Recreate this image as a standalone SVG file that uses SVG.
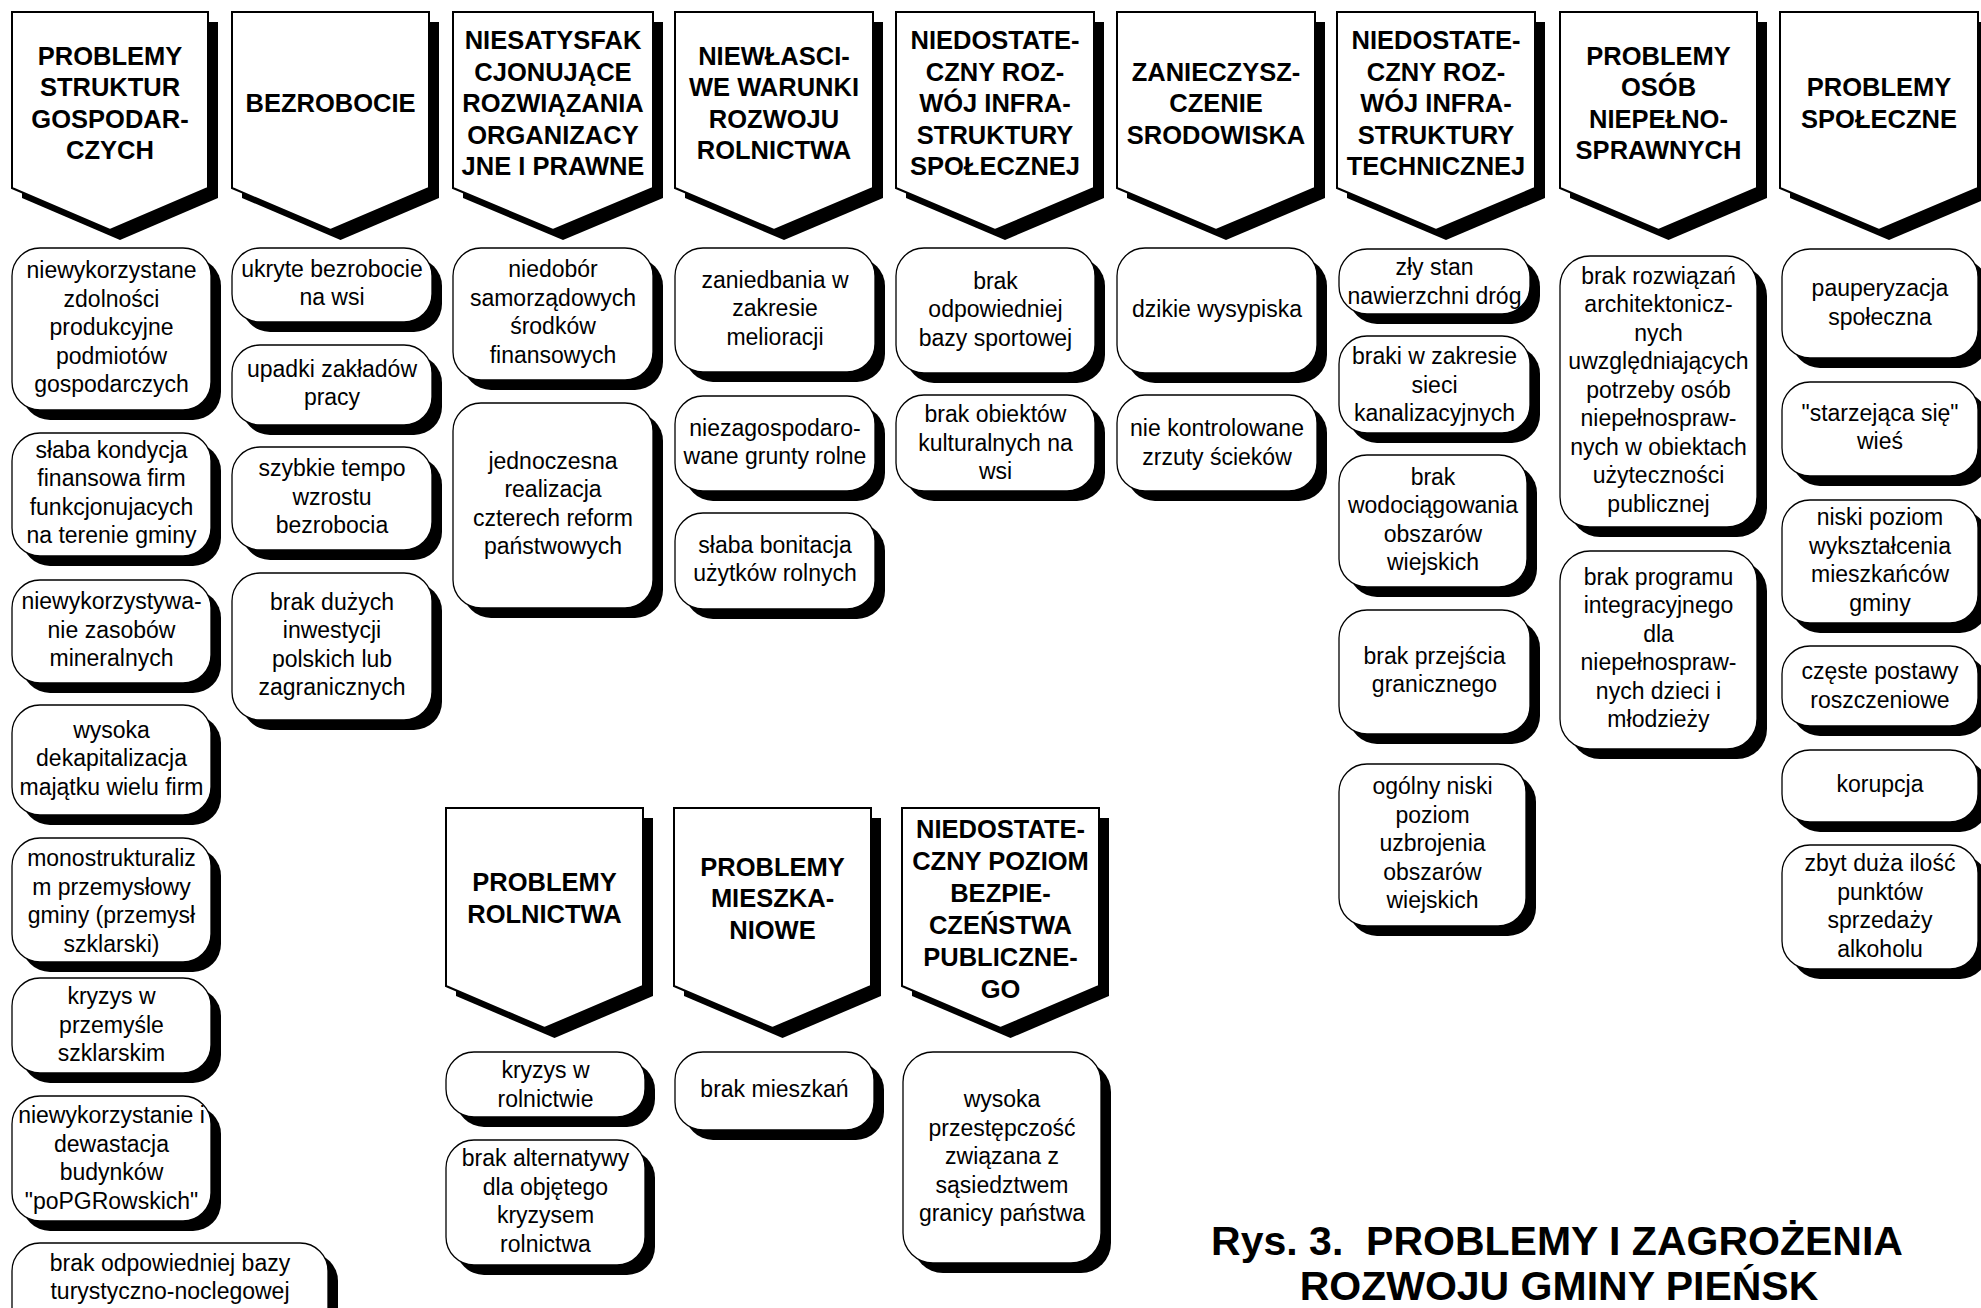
<svg xmlns="http://www.w3.org/2000/svg" width="1981" height="1308" viewBox="0 0 1981 1308">
<style>
.sh{fill:#000}
.hd{fill:#fff;stroke:#000;stroke-width:2;stroke-linejoin:miter}
.bx{fill:#fff;stroke:#000;stroke-width:1.3}
.ht{font-family:"Liberation Sans",Arial,sans-serif;font-weight:bold;font-size:25.5px;text-anchor:middle;fill:#000}
.bt{font-family:"Liberation Sans",Arial,sans-serif;font-size:23px;text-anchor:middle;fill:#000}
.tt{font-family:"Liberation Sans",Arial,sans-serif;font-weight:bold;font-size:41px;text-anchor:middle;fill:#000;white-space:pre}
</style>
<rect width="1981" height="1308" fill="#fff"/>
<g id="connectors"/>

<!-- Top headers -->
<g id="h1"><polygon class="sh" transform="translate(10,10)" points="12,12 208,12 208,188 110,230 12,188"/><polygon class="hd" points="12,12 208,12 208,188 110,230 12,188"/>
<text class="ht" y="64.75"><tspan x="110">PROBLEMY</tspan><tspan x="110" dy="31.5">STRUKTUR</tspan><tspan x="110" dy="31.5">GOSPODAR-</tspan><tspan x="110" dy="31.5">CZYCH</tspan></text></g>
<g id="h2"><polygon class="sh" transform="translate(10,10)" points="232,12 429,12 429,188 330.5,230 232,188"/><polygon class="hd" points="232,12 429,12 429,188 330.5,230 232,188"/>
<text class="ht" y="112"><tspan x="330.5">BEZROBOCIE</tspan></text></g>
<g id="h3"><polygon class="sh" transform="translate(10,10)" points="453,12 653,12 653,188 553,230 453,188"/><polygon class="hd" points="453,12 653,12 653,188 553,230 453,188"/>
<text class="ht" y="49"><tspan x="553">NIESATYSFAK</tspan><tspan x="553" dy="31.5">CJONUJĄCE</tspan><tspan x="553" dy="31.5">ROZWIĄZANIA</tspan><tspan x="553" dy="31.5">ORGANIZACY</tspan><tspan x="553" dy="31.5">JNE I PRAWNE</tspan></text></g>
<g id="h4"><polygon class="sh" transform="translate(10,10)" points="675,12 873,12 873,188 774,230 675,188"/><polygon class="hd" points="675,12 873,12 873,188 774,230 675,188"/>
<text class="ht" y="64.75"><tspan x="774">NIEWŁASCI-</tspan><tspan x="774" dy="31.5">WE WARUNKI</tspan><tspan x="774" dy="31.5">ROZWOJU</tspan><tspan x="774" dy="31.5">ROLNICTWA</tspan></text></g>
<g id="h5"><polygon class="sh" transform="translate(10,10)" points="896,12 1094,12 1094,188 995,230 896,188"/><polygon class="hd" points="896,12 1094,12 1094,188 995,230 896,188"/>
<text class="ht" y="49"><tspan x="995">NIEDOSTATE-</tspan><tspan x="995" dy="31.5">CZNY ROZ-</tspan><tspan x="995" dy="31.5">WÓJ INFRA-</tspan><tspan x="995" dy="31.5">STRUKTURY</tspan><tspan x="995" dy="31.5">SPOŁECZNEJ</tspan></text></g>
<g id="h6"><polygon class="sh" transform="translate(10,10)" points="1117,12 1315,12 1315,188 1216,230 1117,188"/><polygon class="hd" points="1117,12 1315,12 1315,188 1216,230 1117,188"/>
<text class="ht" y="80.5"><tspan x="1216">ZANIECZYSZ-</tspan><tspan x="1216" dy="31.5">CZENIE</tspan><tspan x="1216" dy="31.5">SRODOWISKA</tspan></text></g>
<g id="h7"><polygon class="sh" transform="translate(10,10)" points="1337,12 1535,12 1535,188 1436,230 1337,188"/><polygon class="hd" points="1337,12 1535,12 1535,188 1436,230 1337,188"/>
<text class="ht" y="49"><tspan x="1436">NIEDOSTATE-</tspan><tspan x="1436" dy="31.5">CZNY ROZ-</tspan><tspan x="1436" dy="31.5">WÓJ INFRA-</tspan><tspan x="1436" dy="31.5">STRUKTURY</tspan><tspan x="1436" dy="31.5">TECHNICZNEJ</tspan></text></g>
<g id="h8"><polygon class="sh" transform="translate(10,10)" points="1560,12 1757,12 1757,188 1658.5,230 1560,188"/><polygon class="hd" points="1560,12 1757,12 1757,188 1658.5,230 1560,188"/>
<text class="ht" y="64.75"><tspan x="1658.5">PROBLEMY</tspan><tspan x="1658.5" dy="31.5">OSÓB</tspan><tspan x="1658.5" dy="31.5">NIEPEŁNO-</tspan><tspan x="1658.5" dy="31.5">SPRAWNYCH</tspan></text></g>
<g id="h9"><polygon class="sh" transform="translate(10,10)" points="1780,12 1978,12 1978,188 1879,230 1780,188"/><polygon class="hd" points="1780,12 1978,12 1978,188 1879,230 1780,188"/>
<text class="ht" y="96.25"><tspan x="1879">PROBLEMY</tspan><tspan x="1879" dy="31.5">SPOŁECZNE</tspan></text></g>

<!-- Column 1 -->
<g id="c1b1"><rect class="sh" x="22" y="258" width="199" height="162" rx="28"/><rect class="bx" x="12" y="248" width="199" height="162" rx="28"/>
<text class="bt" y="278"><tspan x="111.5">niewykorzystane</tspan><tspan x="111.5" dy="28.5">zdolności</tspan><tspan x="111.5" dy="28.5">produkcyjne</tspan><tspan x="111.5" dy="28.5">podmiotów</tspan><tspan x="111.5" dy="28.5">gospodarczych</tspan></text></g>
<g id="c1b2"><rect class="sh" x="22" y="443" width="199" height="123" rx="28"/><rect class="bx" x="12" y="433" width="199" height="123" rx="28"/>
<text class="bt" y="457.75"><tspan x="111.5">słaba kondycja</tspan><tspan x="111.5" dy="28.5">finansowa firm</tspan><tspan x="111.5" dy="28.5">funkcjonujacych</tspan><tspan x="111.5" dy="28.5">na terenie gminy</tspan></text></g>
<g id="c1b3"><rect class="sh" x="22" y="590" width="199" height="103" rx="28"/><rect class="bx" x="12" y="580" width="199" height="103" rx="28"/>
<text class="bt" y="609"><tspan x="111.5">niewykorzystywa-</tspan><tspan x="111.5" dy="28.5">nie zasobów</tspan><tspan x="111.5" dy="28.5">mineralnych</tspan></text></g>
<g id="c1b4"><rect class="sh" x="22" y="715" width="199" height="110" rx="28"/><rect class="bx" x="12" y="705" width="199" height="110" rx="28"/>
<text class="bt" y="737.5"><tspan x="111.5">wysoka</tspan><tspan x="111.5" dy="28.5">dekapitalizacja</tspan><tspan x="111.5" dy="28.5">majątku wielu firm</tspan></text></g>
<g id="c1b5"><rect class="sh" x="22" y="848" width="199" height="124" rx="28"/><rect class="bx" x="12" y="838" width="199" height="124" rx="28"/>
<text class="bt" y="866"><tspan x="111.5">monostrukturaliz</tspan><tspan x="111.5" dy="28.5">m przemysłowy</tspan><tspan x="111.5" dy="28.5">gminy (przemysł</tspan><tspan x="111.5" dy="28.5">szklarski)</tspan></text></g>
<g id="c1b6"><rect class="sh" x="22" y="988" width="199" height="95" rx="28"/><rect class="bx" x="12" y="978" width="199" height="95" rx="28"/>
<text class="bt" y="1004"><tspan x="111.5">kryzys w</tspan><tspan x="111.5" dy="28.5">przemyśle</tspan><tspan x="111.5" dy="28.5">szklarskim</tspan></text></g>
<g id="c1b7"><rect class="sh" x="22" y="1106" width="199" height="125" rx="28"/><rect class="bx" x="12" y="1096" width="199" height="125" rx="28"/>
<text class="bt" y="1123"><tspan x="111.5">niewykorzystanie i</tspan><tspan x="111.5" dy="28.5">dewastacja</tspan><tspan x="111.5" dy="28.5">budynków</tspan><tspan x="111.5" dy="28.5">"poPGRowskich"</tspan></text></g>
<g id="c1b8"><rect class="sh" x="22" y="1253" width="316" height="120" rx="28"/><rect class="bx" x="12" y="1243" width="316" height="120" rx="28"/>
<text class="bt" y="1271"><tspan x="170">brak odpowiedniej bazy</tspan><tspan x="170" dy="28">turystyczno-noclegowej</tspan></text></g>

<!-- Column 2 -->
<g id="c2b1"><rect class="sh" x="242" y="258" width="200" height="74" rx="28"/><rect class="bx" x="232" y="248" width="200" height="74" rx="28"/>
<text class="bt" y="276.75"><tspan x="332">ukryte bezrobocie</tspan><tspan x="332" dy="28.5">na wsi</tspan></text></g>
<g id="c2b2"><rect class="sh" x="242" y="355" width="200" height="80" rx="28"/><rect class="bx" x="232" y="345" width="200" height="80" rx="28"/>
<text class="bt" y="376.75"><tspan x="332">upadki zakładów</tspan><tspan x="332" dy="28.5">pracy</tspan></text></g>
<g id="c2b3"><rect class="sh" x="242" y="457" width="200" height="103" rx="28"/><rect class="bx" x="232" y="447" width="200" height="103" rx="28"/>
<text class="bt" y="476"><tspan x="332">szybkie tempo</tspan><tspan x="332" dy="28.5">wzrostu</tspan><tspan x="332" dy="28.5">bezrobocia</tspan></text></g>
<g id="c2b4"><rect class="sh" x="242" y="583" width="200" height="147" rx="28"/><rect class="bx" x="232" y="573" width="200" height="147" rx="28"/>
<text class="bt" y="609.75"><tspan x="332">brak dużych</tspan><tspan x="332" dy="28.5">inwestycji</tspan><tspan x="332" dy="28.5">polskich lub</tspan><tspan x="332" dy="28.5">zagranicznych</tspan></text></g>

<!-- Column 3 -->
<g id="c3b1"><rect class="sh" x="463" y="258" width="200" height="132" rx="28"/><rect class="bx" x="453" y="248" width="200" height="132" rx="28"/>
<text class="bt" y="277.25"><tspan x="553">niedobór</tspan><tspan x="553" dy="28.5">samorządowych</tspan><tspan x="553" dy="28.5">środków</tspan><tspan x="553" dy="28.5">finansowych</tspan></text></g>
<g id="c3b2"><rect class="sh" x="463" y="413" width="200" height="205" rx="28"/><rect class="bx" x="453" y="403" width="200" height="205" rx="28"/>
<text class="bt" y="468.75"><tspan x="553">jednoczesna</tspan><tspan x="553" dy="28.5">realizacja</tspan><tspan x="553" dy="28.5">czterech reform</tspan><tspan x="553" dy="28.5">państwowych</tspan></text></g>

<!-- Column 4 -->
<g id="c4b1"><rect class="sh" x="685" y="258" width="200" height="124" rx="28"/><rect class="bx" x="675" y="248" width="200" height="124" rx="28"/>
<text class="bt" y="287.5"><tspan x="775">zaniedbania w</tspan><tspan x="775" dy="28.5">zakresie</tspan><tspan x="775" dy="28.5">melioracji</tspan></text></g>
<g id="c4b2"><rect class="sh" x="685" y="406" width="200" height="95" rx="28"/><rect class="bx" x="675" y="396" width="200" height="95" rx="28"/>
<text class="bt" y="435.5"><tspan x="775">niezagospodaro-</tspan><tspan x="775" dy="28.5">wane grunty rolne</tspan></text></g>
<g id="c4b3"><rect class="sh" x="685" y="523" width="200" height="96" rx="28"/><rect class="bx" x="675" y="513" width="200" height="96" rx="28"/>
<text class="bt" y="552.75"><tspan x="775">słaba bonitacja</tspan><tspan x="775" dy="28.5">użytków rolnych</tspan></text></g>

<!-- Column 5 -->
<g id="c5b1"><rect class="sh" x="906" y="258" width="199" height="125" rx="28"/><rect class="bx" x="896" y="248" width="199" height="125" rx="28"/>
<text class="bt" y="288.5"><tspan x="995.5">brak</tspan><tspan x="995.5" dy="28.5">odpowiedniej</tspan><tspan x="995.5" dy="28.5">bazy sportowej</tspan></text></g>
<g id="c5b2"><rect class="sh" x="906" y="405" width="199" height="96" rx="28"/><rect class="bx" x="896" y="395" width="199" height="96" rx="28"/>
<text class="bt" y="422"><tspan x="995.5">brak obiektów</tspan><tspan x="995.5" dy="28.5">kulturalnych na</tspan><tspan x="995.5" dy="28.5">wsi</tspan></text></g>

<!-- Column 6 -->
<g id="c6b1"><rect class="sh" x="1127" y="258" width="200" height="125" rx="28"/><rect class="bx" x="1117" y="248" width="200" height="125" rx="28"/>
<text class="bt" y="316.5"><tspan x="1217">dzikie wysypiska</tspan></text></g>
<g id="c6b2"><rect class="sh" x="1127" y="405" width="200" height="96" rx="28"/><rect class="bx" x="1117" y="395" width="200" height="96" rx="28"/>
<text class="bt" y="436"><tspan x="1217">nie kontrolowane</tspan><tspan x="1217" dy="28.5">zrzuty ścieków</tspan></text></g>

<!-- Column 7 -->
<g id="c7b1"><rect class="sh" x="1349" y="259" width="191" height="65" rx="28"/><rect class="bx" x="1339" y="249" width="191" height="65" rx="28"/>
<text class="bt" y="275"><tspan x="1434.5">zły stan</tspan><tspan x="1434.5" dy="28.5">nawierzchni dróg</tspan></text></g>
<g id="c7b2"><rect class="sh" x="1349" y="346" width="191" height="97" rx="28"/><rect class="bx" x="1339" y="336" width="191" height="97" rx="28"/>
<text class="bt" y="364"><tspan x="1434.5">braki w zakresie</tspan><tspan x="1434.5" dy="28.5">sieci</tspan><tspan x="1434.5" dy="28.5">kanalizacyjnych</tspan></text></g>
<g id="c7b3"><rect class="sh" x="1349" y="465" width="188" height="132" rx="28"/><rect class="bx" x="1339" y="455" width="188" height="132" rx="28"/>
<text class="bt" y="484.5"><tspan x="1433">brak</tspan><tspan x="1433" dy="28.5">wodociągowania</tspan><tspan x="1433" dy="28.5">obszarów</tspan><tspan x="1433" dy="28.5">wiejskich</tspan></text></g>
<g id="c7b4"><rect class="sh" x="1349" y="620" width="191" height="124" rx="28"/><rect class="bx" x="1339" y="610" width="191" height="124" rx="28"/>
<text class="bt" y="663.75"><tspan x="1434.5">brak przejścia</tspan><tspan x="1434.5" dy="28.5">granicznego</tspan></text></g>
<g id="c7b5"><rect class="sh" x="1349" y="774" width="187" height="162" rx="28"/><rect class="bx" x="1339" y="764" width="187" height="162" rx="28"/>
<text class="bt" y="794"><tspan x="1432.5">ogólny niski</tspan><tspan x="1432.5" dy="28.5">poziom</tspan><tspan x="1432.5" dy="28.5">uzbrojenia</tspan><tspan x="1432.5" dy="28.5">obszarów</tspan><tspan x="1432.5" dy="28.5">wiejskich</tspan></text></g>

<!-- Column 8 -->
<g id="c8b1"><rect class="sh" x="1570" y="266" width="197" height="271" rx="30"/><rect class="bx" x="1560" y="256" width="197" height="271" rx="30"/>
<text class="bt" y="283.5"><tspan x="1658.5">brak rozwiązań</tspan><tspan x="1658.5" dy="28.5">architektonicz-</tspan><tspan x="1658.5" dy="28.5">nych</tspan><tspan x="1658.5" dy="28.5">uwzględniających</tspan><tspan x="1658.5" dy="28.5">potrzeby osób</tspan><tspan x="1658.5" dy="28.5">niepełnospraw-</tspan><tspan x="1658.5" dy="28.5">nych w obiektach</tspan><tspan x="1658.5" dy="28.5">użyteczności</tspan><tspan x="1658.5" dy="28.5">publicznej</tspan></text></g>
<g id="c8b2"><rect class="sh" x="1570" y="561" width="197" height="198" rx="30"/><rect class="bx" x="1560" y="551" width="197" height="198" rx="30"/>
<text class="bt" y="584.75"><tspan x="1658.5">brak programu</tspan><tspan x="1658.5" dy="28.5">integracyjnego</tspan><tspan x="1658.5" dy="28.5">dla</tspan><tspan x="1658.5" dy="28.5">niepełnospraw-</tspan><tspan x="1658.5" dy="28.5">nych dzieci i</tspan><tspan x="1658.5" dy="28.5">młodzieży</tspan></text></g>

<!-- Column 9 -->
<g id="c9b1"><rect class="sh" x="1792" y="259" width="196" height="109" rx="28"/><rect class="bx" x="1782" y="249" width="196" height="109" rx="28"/>
<text class="bt" y="296"><tspan x="1880">pauperyzacja</tspan><tspan x="1880" dy="28.5">społeczna</tspan></text></g>
<g id="c9b2"><rect class="sh" x="1792" y="392" width="196" height="94" rx="28"/><rect class="bx" x="1782" y="382" width="196" height="94" rx="28"/>
<text class="bt" y="420.75"><tspan x="1880">"starzejąca się"</tspan><tspan x="1880" dy="28.5">wieś</tspan></text></g>
<g id="c9b3"><rect class="sh" x="1792" y="510" width="196" height="123" rx="28"/><rect class="bx" x="1782" y="500" width="196" height="123" rx="28"/>
<text class="bt" y="525"><tspan x="1880">niski poziom</tspan><tspan x="1880" dy="28.5">wykształcenia</tspan><tspan x="1880" dy="28.5">mieszkańców</tspan><tspan x="1880" dy="28.5">gminy</tspan></text></g>
<g id="c9b4"><rect class="sh" x="1792" y="656" width="196" height="80" rx="28"/><rect class="bx" x="1782" y="646" width="196" height="80" rx="28"/>
<text class="bt" y="679"><tspan x="1880">częste postawy</tspan><tspan x="1880" dy="28.5">roszczeniowe</tspan></text></g>
<g id="c9b5"><rect class="sh" x="1792" y="760" width="196" height="72" rx="28"/><rect class="bx" x="1782" y="750" width="196" height="72" rx="28"/>
<text class="bt" y="792"><tspan x="1880">korupcja</tspan></text></g>
<g id="c9b6"><rect class="sh" x="1792" y="855" width="196" height="124" rx="28"/><rect class="bx" x="1782" y="845" width="196" height="124" rx="28"/>
<text class="bt" y="871"><tspan x="1880">zbyt duża ilość</tspan><tspan x="1880" dy="28.5">punktów</tspan><tspan x="1880" dy="28.5">sprzedaży</tspan><tspan x="1880" dy="28.5">alkoholu</tspan></text></g>

<!-- Bottom headers -->
<g id="hA"><polygon class="sh" transform="translate(10,10)" points="446,808 643,808 643,986 544.5,1028 446,986"/><polygon class="hd" points="446,808 643,808 643,986 544.5,1028 446,986"/>
<text class="ht" y="891.25"><tspan x="544.5">PROBLEMY</tspan><tspan x="544.5" dy="31.5">ROLNICTWA</tspan></text></g>
<g id="hB"><polygon class="sh" transform="translate(10,10)" points="674,808 871,808 871,986 772.5,1028 674,986"/><polygon class="hd" points="674,808 871,808 871,986 772.5,1028 674,986"/>
<text class="ht" y="875.5"><tspan x="772.5">PROBLEMY</tspan><tspan x="772.5" dy="31.5">MIESZKA-</tspan><tspan x="772.5" dy="31.5">NIOWE</tspan></text></g>
<g id="hC"><polygon class="sh" transform="translate(10,10)" points="902,808 1099,808 1099,986 1000.5,1028 902,986"/><polygon class="hd" points="902,808 1099,808 1099,986 1000.5,1028 902,986"/>
<text class="ht" y="838"><tspan x="1000.5">NIEDOSTATE-</tspan><tspan x="1000.5" dy="32">CZNY POZIOM</tspan><tspan x="1000.5" dy="32">BEZPIE-</tspan><tspan x="1000.5" dy="32">CZEŃSTWA</tspan><tspan x="1000.5" dy="32">PUBLICZNE-</tspan><tspan x="1000.5" dy="32">GO</tspan></text></g>

<!-- Bottom boxes -->
<g id="aB1"><rect class="sh" x="456" y="1062" width="199" height="65" rx="28"/><rect class="bx" x="446" y="1052" width="199" height="65" rx="28"/>
<text class="bt" y="1078"><tspan x="545.5">kryzys w</tspan><tspan x="545.5" dy="28.5">rolnictwie</tspan></text></g>
<g id="aB2"><rect class="sh" x="456" y="1150" width="199" height="125" rx="28"/><rect class="bx" x="446" y="1140" width="199" height="125" rx="28"/>
<text class="bt" y="1166"><tspan x="545.5">brak alternatywy</tspan><tspan x="545.5" dy="28.5">dla objętego</tspan><tspan x="545.5" dy="28.5">kryzysem</tspan><tspan x="545.5" dy="28.5">rolnictwa</tspan></text></g>
<g id="bB1"><rect class="sh" x="685" y="1062" width="199" height="78" rx="28"/><rect class="bx" x="675" y="1052" width="199" height="78" rx="28"/>
<text class="bt" y="1097"><tspan x="774.5">brak mieszkań</tspan></text></g>
<g id="cB1"><rect class="sh" x="913" y="1062" width="198" height="211" rx="30"/><rect class="bx" x="903" y="1052" width="198" height="211" rx="30"/>
<text class="bt" y="1107"><tspan x="1002">wysoka</tspan><tspan x="1002" dy="28.5">przestępczość</tspan><tspan x="1002" dy="28.5">związana z</tspan><tspan x="1002" dy="28.5">sąsiedztwem</tspan><tspan x="1002" dy="28.5">granicy państwa</tspan></text></g>

<!-- Title -->
<g id="title">
<text class="tt" x="1557" y="1255">Rys. 3.  PROBLEMY I ZAGROŻENIA</text>
<text class="tt" x="1559" y="1300">ROZWOJU GMINY PIEŃSK</text>
</g>
</svg>
